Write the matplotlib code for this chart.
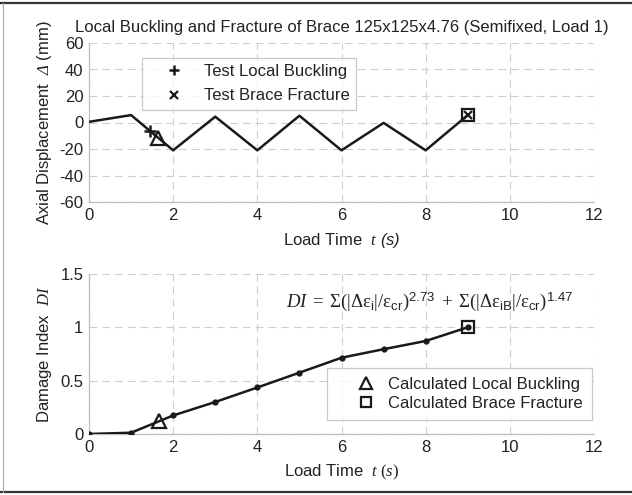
import matplotlib
matplotlib.use("Agg")
import matplotlib.pyplot as plt
from matplotlib.lines import Line2D

plt.rcParams['font.family'] = ['Liberation Sans', 'DejaVu Sans']
plt.rcParams['axes.unicode_minus'] = False
plt.rcParams['mathtext.fontset'] = 'custom'
plt.rcParams['mathtext.rm'] = 'Liberation Serif'
plt.rcParams['mathtext.it'] = 'Liberation Serif:italic'
plt.rcParams['mathtext.sf'] = 'Liberation Sans'
plt.rcParams['mathtext.bf'] = 'Liberation Serif:italic'
plt.rcParams['mathtext.cal'] = 'Liberation Sans:italic'

# load history (axial displacement vs time)
t_load = [0, 1, 2, 3, 4, 5, 6, 7, 8, 9]
disp = [0.5, 5.6, -21, 4.4, -21, 5.1, -21, -0.3, -21, 5.6]

# observed / calculated events on the displacement curve
test_buckle = (1.44, -6.1)
test_fracture = (9, 5.6)
calc_buckle_disp = (1.65, -11.7)
calc_fracture_disp = (9, 5.6)

# damage index history
di = [0, 0.012, 0.174, 0.30, 0.436, 0.575, 0.715, 0.795, 0.872, 1.0]
calc_buckle_di = (1.66, 0.12)
calc_fracture_di = (9, 1.0)

txt = '#222222'
ink = '#1a1a1a'
gridc = '#cfcfcf'
spinec = '#bdbdbd'
fs = 12

fig = plt.figure(figsize=(6.32, 4.95), dpi=100)
ax1 = fig.add_axes([89/632, 1-202/495, 505/632, 159/495])
ax2 = fig.add_axes([89/632, 1-434/495, 505/632, 160/495])

def style(ax):
    for s in ['top', 'right']:
        ax.spines[s].set_visible(False)
    for s in ['left', 'bottom']:
        ax.spines[s].set_color(spinec)
        ax.spines[s].set_linewidth(0.9)
    ax.grid(True, color=gridc, linestyle=(0, (7, 4.5)), linewidth=0.8)
    ax.tick_params(length=0, labelsize=fs, colors=txt, pad=4)
    ax.set_axisbelow(True)
    ax.set_xlim(0, 12)
    ax.set_xticks(range(0, 13, 2))
    ax.yaxis.set_label_coords(-0.07, 0.5)

# top panel
style(ax1)
ax1.set_ylim(-60, 60)
ax1.set_yticks(range(-60, 61, 20))
ax1.plot(t_load, disp, color=ink, lw=1.8, zorder=3)
ax1.plot(*test_buckle, marker='+', color=ink, ms=8, mew=1.8, zorder=4)
ax1.plot(*calc_buckle_disp, marker='^', mfc='none', mec=ink, ms=10, mew=1.6, zorder=4)
ax1.plot(*calc_fracture_disp, marker='s', mfc='none', mec=ink, ms=9, mew=1.6, zorder=4)
ax1.plot(*test_fracture, marker='x', color=ink, ms=6, mew=1.6, zorder=5)
ax1.set_title('Local Buckling and Fracture of Brace 125x125x4.76 (Semifixed, Load 1)',
              fontsize=fs, color=txt, pad=8)
ax1.set_xlabel(r'Load Time  $t$ $\mathcal{(s)}$', fontsize=fs, color=txt, labelpad=6)
ax1.set_ylabel(r'Axial Displacement  $\mathbf{\Delta}$ (mm)', fontsize=fs, color=txt)

h1 = [Line2D([], [], ls='none', marker='+', color=ink, ms=7, mew=1.8),
      Line2D([], [], ls='none', marker='x', color=ink, ms=5.5, mew=1.6)]
leg1 = ax1.legend(h1, ['Test Local Buckling', 'Test Brace Fracture'],
                  loc='upper left', bbox_to_anchor=(1.25/12, 109/120), borderaxespad=0,
                  fontsize=fs, frameon=True, fancybox=False, edgecolor=spinec,
                  handlelength=3.1, handletextpad=0.22, borderpad=0.4, labelspacing=0.55,
                  labelcolor=txt)
leg1.get_frame().set_linewidth(0.9)

# bottom panel
style(ax2)
ax2.set_ylim(0, 1.5)
ax2.set_yticks([0, 0.5, 1, 1.5])
ax2.set_yticklabels(['0', '0.5', '1', '1.5'])
ax2.plot(t_load, di, color=ink, lw=1.8, marker='o', ms=3.5, zorder=3)
ax2.plot(*calc_buckle_di, marker='^', mfc='none', mec=ink, ms=10, mew=1.6, zorder=4)
ax2.plot(*calc_fracture_di, marker='s', mfc='none', mec=ink, ms=9, mew=1.6, zorder=4)
ax2.set_xlabel(r'Load Time  $t\ (s)$', fontsize=fs, color=txt, labelpad=6)
ax2.set_ylabel(r'Damage Index  $DI$', fontsize=fs, color=txt)
ax2.text(8.1, 1.19,
         r'$DI\;=\;\Sigma(|\Delta\mathrm{\varepsilon}_{\mathsf{i}}|/\mathrm{\varepsilon}_{\mathsf{cr}})^{\mathsf{2.73}}'
         r'\;+\;\Sigma(|\Delta\mathrm{\varepsilon}_{\mathsf{iB}}|/\mathrm{\varepsilon}_{\mathsf{cr}})^{\mathsf{1.47}}$',
         fontsize=13.5, color=txt, ha='center', va='baseline')

h2 = [Line2D([], [], ls='none', marker='^', mfc='none', mec=ink, ms=8, mew=1.6),
      Line2D([], [], ls='none', marker='s', mfc='none', mec=ink, ms=7, mew=1.6)]
leg2 = ax2.legend(h2, ['Calculated Local Buckling', 'Calculated Brace Fracture'],
                  loc='lower right', bbox_to_anchor=(11.95/12, 0.134/1.5), borderaxespad=0,
                  fontsize=fs, frameon=True, fancybox=False, edgecolor=spinec,
                  handlelength=3.57, handletextpad=-0.47, borderpad=0.55, labelspacing=0.22,
                  labelcolor=txt)
leg2.get_frame().set_linewidth(0.9)

# figure frame
fig.add_artist(Line2D([0, 1], [1-3/495, 1-3/495], color='#333333', lw=1.6))
fig.add_artist(Line2D([0, 1], [3/495, 3/495], color='#333333', lw=1.6))
fig.add_artist(Line2D([3/632, 3/632], [3/495, 1-3/495], color='#aaaaaa', lw=0.8))

fig.savefig('out.png', dpi=100)
